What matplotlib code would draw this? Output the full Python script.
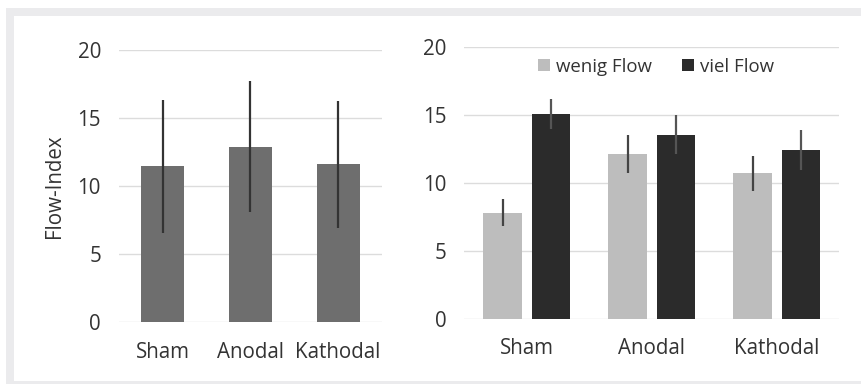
import matplotlib
matplotlib.use("Agg")
import matplotlib.pyplot as plt
from matplotlib.patches import Rectangle, Patch
import numpy as np

plt.rcParams['font.family'] = ['Open Sans', 'DejaVu Sans']

categories = ["Sham", "Anodal", "Kathodal"]
overall_mean = [11.45, 12.9, 11.6]
overall_err = [4.9, 4.8, 4.65]
wenig_mean = [7.8, 12.13, 10.71]
wenig_err = [1.0, 1.4, 1.28]
viel_mean = [15.04, 13.55, 12.4]
viel_err = [1.1, 1.4, 1.45]
yticks = [0, 5, 10, 15, 20]
legend_labels = ["wenig Flow", "viel Flow"]

W, H = 862, 384
fig = plt.figure(figsize=(W / 100, H / 100), dpi=100)
fig.patch.set_facecolor('white')

# frame
frame_c = '#ebebed'
fig.add_artist(Rectangle((6 / W, 1 - 384 / H), 8 / W, (384 - 8) / H, transform=fig.transFigure,
                         facecolor=frame_c, edgecolor='none', zorder=0))
fig.add_artist(Rectangle((6 / W, 1 - 16 / H), (W - 6) / W, 8 / H, transform=fig.transFigure,
                         facecolor=frame_c, edgecolor='none', zorder=0))
fig.add_artist(Rectangle((6 / W, 0), (W - 6) / W, 3 / H, transform=fig.transFigure,
                         facecolor=frame_c, edgecolor='none', zorder=0))

text_c = '#333333'
grid_c = '#dcdcdc'
fs = 14.8


def style(ax):
    ax.set_ylim(0, 20)
    ax.set_xlim(-0.5, 2.5)
    ax.set_yticks(yticks)
    ax.set_xticks(range(len(categories)))
    ax.set_xticklabels(categories)
    for s in ax.spines.values():
        s.set_visible(False)
    ax.tick_params(axis='both', length=0, labelsize=fs, colors=text_c)
    ax.tick_params(axis='y', pad=13)
    ax.tick_params(axis='x', pad=14)
    ax.yaxis.grid(True, color=grid_c, lw=1.0)
    ax.set_axisbelow(True)
    ax.set_facecolor('none')


ax1 = fig.add_axes([119 / W, 1 - 322.3 / H, 263 / W, 272.3 / H])
style(ax1)
x = np.arange(len(categories))
ax1.bar(x, overall_mean, width=0.49, color='#6e6e6e', zorder=2)
ax1.errorbar(x, overall_mean, yerr=overall_err, fmt='none', ecolor='#333333',
             elinewidth=1.6, capsize=0, zorder=3)
ax1.set_ylabel("Flow-Index", fontsize=fs, color=text_c, labelpad=9)

ax2 = fig.add_axes([464.3 / W, 1 - 319 / H, 375 / W, 272.3 / H])
style(ax2)
off = 0.194
bw = 0.305
ax2.bar(x - off, wenig_mean, width=bw, color='#bdbdbd', zorder=2)
ax2.bar(x + off, viel_mean, width=bw, color='#2b2b2b', zorder=2)
ax2.errorbar(x - off, wenig_mean, yerr=wenig_err, fmt='none', ecolor='#444444',
             elinewidth=1.6, capsize=0, zorder=3)
ax2.errorbar(x + off, viel_mean, yerr=viel_err, fmt='none', ecolor='#555555',
             elinewidth=1.6, capsize=0, zorder=3)
handles = [Patch(facecolor='#bdbdbd'), Patch(facecolor='#2b2b2b')]
ax2.legend(handles, legend_labels, loc='center', bbox_to_anchor=(0.511, 0.927), ncol=2,
           frameon=False, fontsize=13.4, labelcolor=text_c, handlelength=0.65, handleheight=0.65,
           handletextpad=0.3, columnspacing=1.65, borderpad=0)

fig.savefig("out.png", dpi=100, facecolor=fig.get_facecolor())
